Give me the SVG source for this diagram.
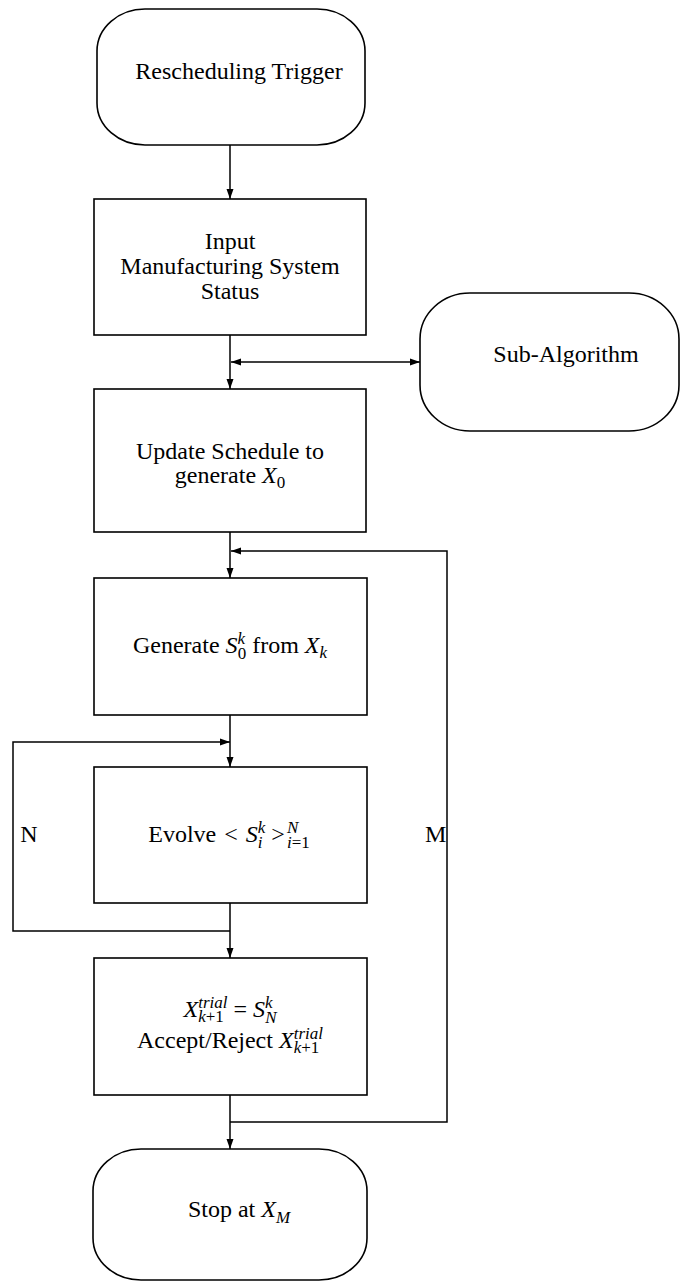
<svg xmlns="http://www.w3.org/2000/svg" width="682" height="1282" viewBox="0 0 682 1282">
  <style>
    .shape { fill: #ffffff; stroke: #000000; stroke-width: 1.6; }
    .wire { fill: none; stroke: #000000; stroke-width: 1.5; }
    text { font-family: "Liberation Serif", "DejaVu Serif", serif; font-size: 24px; fill: #000000; }
    .lbl { text-anchor: middle; }
    .m { font-style: italic; }
    .s { font-size: 17px; }
  </style>
  <defs>
    <marker id="arrow" markerUnits="userSpaceOnUse" markerWidth="10" markerHeight="8" refX="10" refY="4" orient="auto-start-reverse">
      <path d="M0,0.5 L10,4 L0,7.5 z" fill="#000000"/>
    </marker>
  </defs>

  <rect width="682" height="1282" fill="#ffffff"/>

  <!-- connectors -->
  <g id="connectors">
    <line class="wire" x1="230" y1="145" x2="230" y2="199" marker-end="url(#arrow)"/>
    <line class="wire" x1="230" y1="335" x2="230" y2="389" marker-end="url(#arrow)"/>
    <line class="wire" x1="231" y1="362" x2="420" y2="362" marker-start="url(#arrow)" marker-end="url(#arrow)"/>
    <line class="wire" x1="230" y1="532" x2="230" y2="578" marker-end="url(#arrow)"/>
    <line class="wire" x1="230" y1="715" x2="230" y2="767" marker-end="url(#arrow)"/>
    <line class="wire" x1="230" y1="903" x2="230" y2="958" marker-end="url(#arrow)"/>
    <line class="wire" x1="230" y1="1095" x2="230" y2="1149" marker-end="url(#arrow)"/>
    <!-- inner loop (N iterations) -->
    <polyline class="wire" points="230,931 13,931 13,742 230,742" marker-end="url(#arrow)"/>
    <!-- outer loop (M iterations) -->
    <polyline class="wire" points="230,1122 447,1122 447,551 231,551" marker-end="url(#arrow)"/>
    <text x="29" y="842" class="lbl">N</text>
    <text x="425" y="842">M</text>
  </g>

  <g id="trigger">
    <rect class="shape" x="97" y="9" width="268" height="136" rx="48" ry="42"/>
    <text class="lbl" x="239" y="79">Rescheduling Trigger</text>
  </g>

  <g id="input-status">
    <rect class="shape" x="94" y="199" width="272" height="136"/>
    <text class="lbl" x="230" y="249">Input</text>
    <text class="lbl" x="230" y="274">Manufacturing System</text>
    <text class="lbl" x="230" y="299">Status</text>
  </g>

  <g id="sub-algorithm">
    <rect class="shape" x="420" y="293" width="259" height="138" rx="50" ry="46"/>
    <text class="lbl" x="566" y="362">Sub-Algorithm</text>
  </g>

  <g id="update-schedule">
    <rect class="shape" x="94" y="389" width="272" height="143"/>
    <text class="lbl" x="230" y="459">Update Schedule to</text>
    <text class="lbl" x="230" y="483">generate <tspan class="m">X</tspan><tspan class="s" dy="5">0</tspan></text>
  </g>

  <g id="generate-start">
    <rect class="shape" x="94" y="578" width="273" height="137"/>
    <text class="lbl" x="230" y="653">Generate <tspan class="m">S</tspan><tspan class="s m" dy="-9">k</tspan><tspan class="s" dx="-7.5" dy="15">0</tspan><tspan dy="-6"> from </tspan><tspan class="m">X</tspan><tspan class="s m" dy="5">k</tspan></text>
  </g>

  <g id="evolve">
    <rect class="shape" x="94" y="767" width="273" height="136"/>
    <text class="lbl" x="229" y="842">Evolve <tspan dx="2">&lt;</tspan><tspan dx="8" class="m">S</tspan><tspan class="s m" dy="6">i</tspan><tspan class="s m" dx="-4.7" dy="-15">k</tspan><tspan dx="6" dy="9">&gt;</tspan><tspan class="s m" dx="2" dy="-9">N</tspan><tspan class="s" dx="-11.3" dy="15"><tspan class="m">i</tspan>=1</tspan><tspan dy="-6"> </tspan></text>
  </g>

  <g id="trial-accept">
    <rect class="shape" x="94" y="958" width="273" height="137"/>
    <text class="lbl" x="230" y="1017"><tspan class="m">X</tspan><tspan class="s" dy="5"><tspan class="m">k</tspan>+1</tspan><tspan class="s m" dx="-25.6" dy="-14">trial</tspan><tspan dy="9"> = </tspan><tspan class="m">S</tspan><tspan class="s m" dy="-9">k</tspan><tspan class="s m" dx="-7.5" dy="15">N</tspan><tspan dy="-6"> </tspan></text>
    <text class="lbl" x="230" y="1048">Accept/Reject <tspan class="m">X</tspan><tspan class="s" dy="5"><tspan class="m">k</tspan>+1</tspan><tspan class="s m" dx="-25.6" dy="-14">trial</tspan><tspan dy="9"> </tspan></text>
  </g>

  <g id="stop">
    <rect class="shape" x="93" y="1149" width="274" height="131" rx="48" ry="42"/>
    <text class="lbl" x="239" y="1217">Stop at <tspan class="m">X</tspan><tspan class="s m" dy="6">M</tspan></text>
  </g>
</svg>
